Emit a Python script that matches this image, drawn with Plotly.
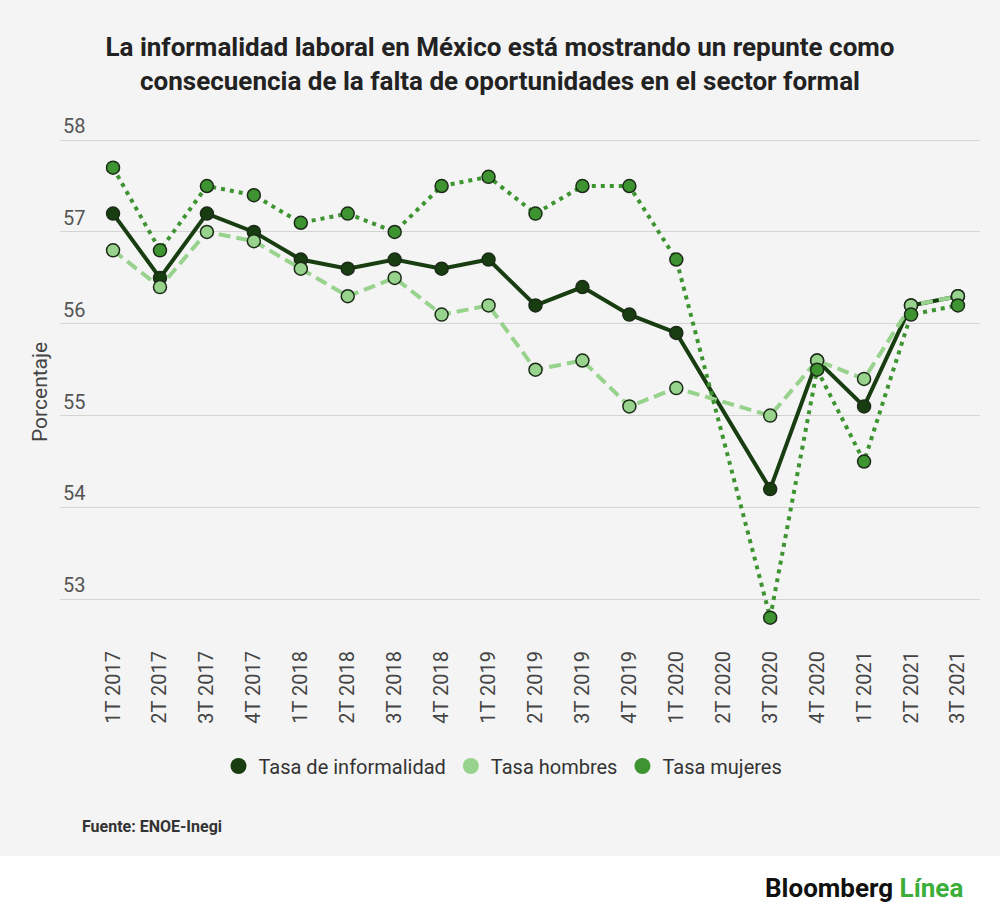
import plotly.graph_objects as go

# Quarterly labor informality rates in Mexico (ENOE-Inegi)
trimestres = ["1T 2017", "2T 2017", "3T 2017", "4T 2017",
              "1T 2018", "2T 2018", "3T 2018", "4T 2018",
              "1T 2019", "2T 2019", "3T 2019", "4T 2019",
              "1T 2020", "2T 2020", "3T 2020", "4T 2020",
              "1T 2021", "2T 2021", "3T 2021"]

tasa_informalidad = [57.2, 56.5, 57.2, 57.0, 56.7, 56.6, 56.7, 56.6, 56.7, 56.2,
                     56.4, 56.1, 55.9, None, 54.2, 55.6, 55.1, 56.2, 56.3]
tasa_hombres = [56.8, 56.4, 57.0, 56.9, 56.6, 56.3, 56.5, 56.1, 56.2, 55.5,
                55.6, 55.1, 55.3, None, 55.0, 55.6, 55.4, 56.2, 56.3]
tasa_mujeres = [57.7, 56.8, 57.5, 57.4, 57.1, 57.2, 57.0, 57.5, 57.6, 57.2,
                57.5, 57.5, 56.7, None, 52.8, 55.5, 54.5, 56.1, 56.2]

y_ticks = [53, 54, 55, 56, 57, 58]

# figure geometry (pixels)
W, H = 1000, 922
L, R, T, B = 60, 20, 108, 286
pw, ph = W - L - R, H - T - B


def px(x):
    return (x - L) / pw


def py(y):
    return (H - B - y) / ph


c_dark = "#173d10"
c_light = "#98d38d"
c_mid = "#3d9431"
c_edge = "#1c2b18"

series = [
    ("Tasa de informalidad", tasa_informalidad, c_dark, "solid"),
    ("Tasa hombres", tasa_hombres, c_light, "12px,6px"),
    ("Tasa mujeres", tasa_mujeres, c_mid, "4px,5px"),
]

fig = go.Figure()

for name, vals, color, dash in series:
    fig.add_trace(go.Scatter(
        x=trimestres, y=vals, mode="lines+markers", name=name,
        connectgaps=True, showlegend=False,
        line=dict(color=color, width=4, dash=dash),
        marker=dict(size=13, color=color, line=dict(color=c_edge, width=1.5)),
    ))

# legend entries: dots only
for name, vals, color, dash in series:
    fig.add_trace(go.Scatter(
        x=[None], y=[None], mode="markers", name=name,
        marker=dict(size=16, color=color),
    ))

fig.update_layout(
    width=W, height=H,
    margin=dict(l=L, r=R, t=T, b=B),
    paper_bgcolor="white",
    plot_bgcolor="rgba(0,0,0,0)",
    font=dict(family="Roboto, sans-serif", color="#444"),
    title=dict(
        text="<b>La informalidad laboral en México está mostrando un repunte como<br>"
             "consecuencia de la falta de oportunidades en el sector formal</b>",
        x=0.5, xanchor="center", y=1 - 56 / H, yanchor="middle",
        font=dict(size=26, color="#222", family="Roboto, sans-serif"),
    ),
    xaxis=dict(
        type="category", range=[-1.13, 18.47],
        tickangle=-90, tickfont=dict(size=20, color="#444"),
        ticks="outside", ticklen=6, tickcolor="rgba(0,0,0,0)",
        showgrid=False, zeroline=False, showline=False,
    ),
    yaxis=dict(
        range=[52.6, 58.35], tickvals=y_ticks,
        ticklabelposition="inside top",
        tickfont=dict(size=20, color="#555"),
        showgrid=True, gridcolor="#d4d4d4", gridwidth=1,
        zeroline=False, showline=False,
    ),
    legend=dict(
        orientation="h", x=px(503), xanchor="center", y=py(766), yanchor="middle",
        font=dict(size=20, color="#333"), bgcolor="rgba(0,0,0,0)",
        itemwidth=30, tracegroupgap=0,
    ),
    shapes=[dict(
        type="rect", xref="paper", yref="paper", layer="below",
        x0=px(0), x1=px(W), y0=py(856), y1=py(0),
        fillcolor="#f4f4f4", line=dict(width=0),
    )],
    annotations=[
        dict(text="Porcentaje", textangle=-90, xref="paper", yref="paper",
             x=px(40), y=py(392), xanchor="center", yanchor="middle",
             showarrow=False, font=dict(size=21, color="#444")),
        dict(text="<b>Fuente: ENOE-Inegi</b>", xref="paper", yref="paper",
             x=px(80), y=py(826), xanchor="left", yanchor="middle", showarrow=False,
             font=dict(size=16, color="#333")),
        dict(text="<b>Bloomberg <span style='color:#3cae3a'>Línea</span></b>",
             xref="paper", yref="paper", x=px(965), y=py(888),
             xanchor="right", yanchor="middle", showarrow=False,
             font=dict(size=26, color="#111", family="Roboto, sans-serif")),
    ],
)

fig.write_html("out.html", config={"displayModeBar": False},
               post_script="document.body.style.margin='0';")
